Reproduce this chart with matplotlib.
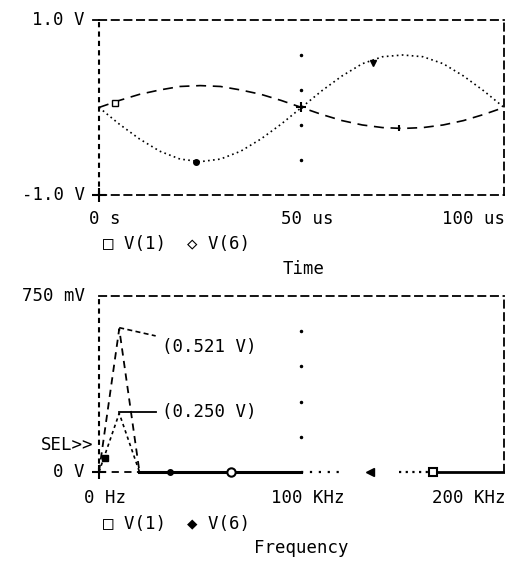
import matplotlib
matplotlib.use('Agg')
import matplotlib.pyplot as plt

# time domain (us, V)
t_us = [0, 5, 10, 15, 20, 25, 30, 35, 40, 45, 50, 55, 60, 65, 70, 75, 80, 85, 90, 95, 100]
v1_t = [0, 0.08, 0.15, 0.2, 0.24, 0.25, 0.24, 0.2, 0.15, 0.08, 0,
        -0.08, -0.15, -0.2, -0.23, -0.24, -0.23, -0.2, -0.15, -0.08, 0]
v6_t = [0, -0.19, -0.36, -0.5, -0.59, -0.62, -0.59, -0.5, -0.36, -0.19, 0,
        0.19, 0.36, 0.5, 0.58, 0.6, 0.58, 0.5, 0.36, 0.19, 0]

# spectrum (kHz, V)
f_khz = [0, 10, 20, 30, 40, 50, 60, 70, 80, 90, 100]
v1_f = [0, 0.25, 0, 0, 0, 0, 0, 0, 0, 0, 0]
v6_f = [0, 0.61, 0, 0, 0, 0, 0, 0, 0, 0, 0]
tail_a = [100, 119]
tail_b = [148, 163]
tail_c = [167, 200]

top_labels = ['0 s', '50 us', '100 us']
bot_labels = ['0 Hz', '100 KHz', '200 KHz']
peak_notes = ['(0.521 V)', '(0.250 V)']

mono = 'DejaVu Sans Mono'
fs = 12.5

fig = plt.figure(figsize=(5.05, 5.65), dpi=100)
ax1 = fig.add_axes([0.196, 0.655, 0.802, 0.3096])
ax2 = fig.add_axes([0.196, 0.1646, 0.802, 0.3115])

for ax in (ax1, ax2):
    ax.set_xticks([])
    ax.set_yticks([])
    for s in ('top', 'bottom', 'right'):
        ax.spines[s].set_linestyle((0, (4, 3)))
        ax.spines[s].set_linewidth(1.3)
    ax.spines['left'].set_linestyle((0, (1.5, 3)))
    ax.spines['left'].set_linewidth(1.5)
ax2.spines['bottom'].set_visible(False)

# ---- top: time
ax1.set_xlim(0, 100)
ax1.set_ylim(-1, 1)
ax1.plot(t_us, v1_t, color='black', lw=1.2, ls=(0, (6, 4)))
ax1.plot(t_us, v6_t, color='black', lw=1.2, ls=(0, (1, 2)))
ax1.plot([4], [0.05], marker='s', ms=5, mfc='white', mec='black', clip_on=False)
ax1.plot([24], [-0.62], marker='o', ms=4, color='black')
ax1.plot([50], [0], marker='+', ms=7, mew=1.5, color='black')
ax1.plot([67.7], [0.51], marker='v', ms=4, color='black')
ax1.plot([74], [-0.235], marker='|', ms=5, mew=1.5, color='black')
ax1.plot([50, 50, 50, 50], [0.6, 0.2, -0.2, -0.6], ls='none', marker='.', ms=3, color='black')
ax1.plot([0], [-1], marker='+', ms=10, mew=1.5, color='black', clip_on=False)
ax1.plot([-1.5, 0], [1, 1], color='black', lw=1.3, clip_on=False)

ax1.text(-3.5, 1, '1.0 V', ha='right', va='center', family=mono, fontsize=fs)
ax1.text(-3.5, -1, '-1.0 V', ha='right', va='center', family=mono, fontsize=fs)
ax1.text(1.5, -1.27, top_labels[0], ha='center', va='center', family=mono, fontsize=fs)
ax1.text(51.5, -1.27, top_labels[1], ha='center', va='center', family=mono, fontsize=fs)
ax1.text(100.3, -1.27, top_labels[2], ha='right', va='center', family=mono, fontsize=fs)
ax1.text(1, -1.56, '\u25a1 V(1)  \u25c7 V(6)', ha='left', va='center', family=mono, fontsize=fs)
ax1.text(50.5, -1.85, 'Time', ha='center', va='center', family=mono, fontsize=fs)

# ---- bottom: frequency
ax2.set_xlim(0, 200)
ax2.set_ylim(0, 0.75)
ax2.plot([0, 20], [0, 0], color='black', lw=1.3, ls=(0, (4, 3)), clip_on=False)
ax2.plot(f_khz[:3], v6_f[:3], color='black', lw=1.3, ls=(0, (4, 3)), clip_on=False)
ax2.plot(f_khz[:3], v1_f[:3], color='black', lw=1.2, ls=(0, (2, 2)), clip_on=False)
ax2.plot(f_khz[2:], v1_f[2:], color='black', lw=2.2, clip_on=False)
ax2.plot(tail_a, [0, 0], color='black', lw=1.6, ls=(0, (1, 3)), clip_on=False)
ax2.plot(tail_b, [0, 0], color='black', lw=1.6, ls=(0, (1, 2)), clip_on=False)
ax2.plot(tail_c, [0, 0], color='black', lw=2.0, clip_on=False)
ax2.plot([134], [0], marker='<', ms=6, color='black', clip_on=False)
ax2.plot([165], [0], marker='s', ms=6, mfc='white', mec='black', mew=1.5, clip_on=False)
ax2.plot([35], [0], marker='o', ms=4, color='black', clip_on=False)
ax2.plot([65], [0], marker='o', ms=6, mfc='white', mec='black', mew=1.5, clip_on=False)
ax2.plot([3], [0.06], marker='s', ms=5, color='black')
ax2.plot([100, 100, 100, 100], [0.6, 0.45, 0.3, 0.15], ls='none', marker='.', ms=3, color='black')
ax2.plot([0], [0], marker='+', ms=10, mew=1.5, color='black', clip_on=False)

# peak annotations
ax2.plot([10, 28], [0.615, 0.58], color='black', lw=1.2, ls=(0, (3, 2)))
ax2.plot([10, 28], [0.255, 0.255], color='black', lw=1.3)
ax2.text(31, 0.532, peak_notes[0], ha='left', va='center', family=mono, fontsize=fs)
ax2.text(31, 0.255, peak_notes[1], ha='left', va='center', family=mono, fontsize=fs)

ax2.text(-7, 0.75, '750 mV', ha='right', va='center', family=mono, fontsize=fs)
ax2.text(-7, 0, '0 V', ha='right', va='center', family=mono, fontsize=fs)
ax2.text(-3, 0.115, 'SEL>>', ha='right', va='center', family=mono, fontsize=fs)
ax2.text(3, -0.11, bot_labels[0], ha='center', va='center', family=mono, fontsize=fs)
ax2.text(103, -0.11, bot_labels[1], ha='center', va='center', family=mono, fontsize=fs)
ax2.text(200.6, -0.11, bot_labels[2], ha='right', va='center', family=mono, fontsize=fs)
ax2.text(2, -0.22, '\u25a1 V(1)  \u25c6 V(6)', ha='left', va='center', family=mono, fontsize=fs)
ax2.text(100, -0.325, 'Frequency', ha='center', va='center', family=mono, fontsize=fs)

plt.savefig('out.png', dpi=100)
